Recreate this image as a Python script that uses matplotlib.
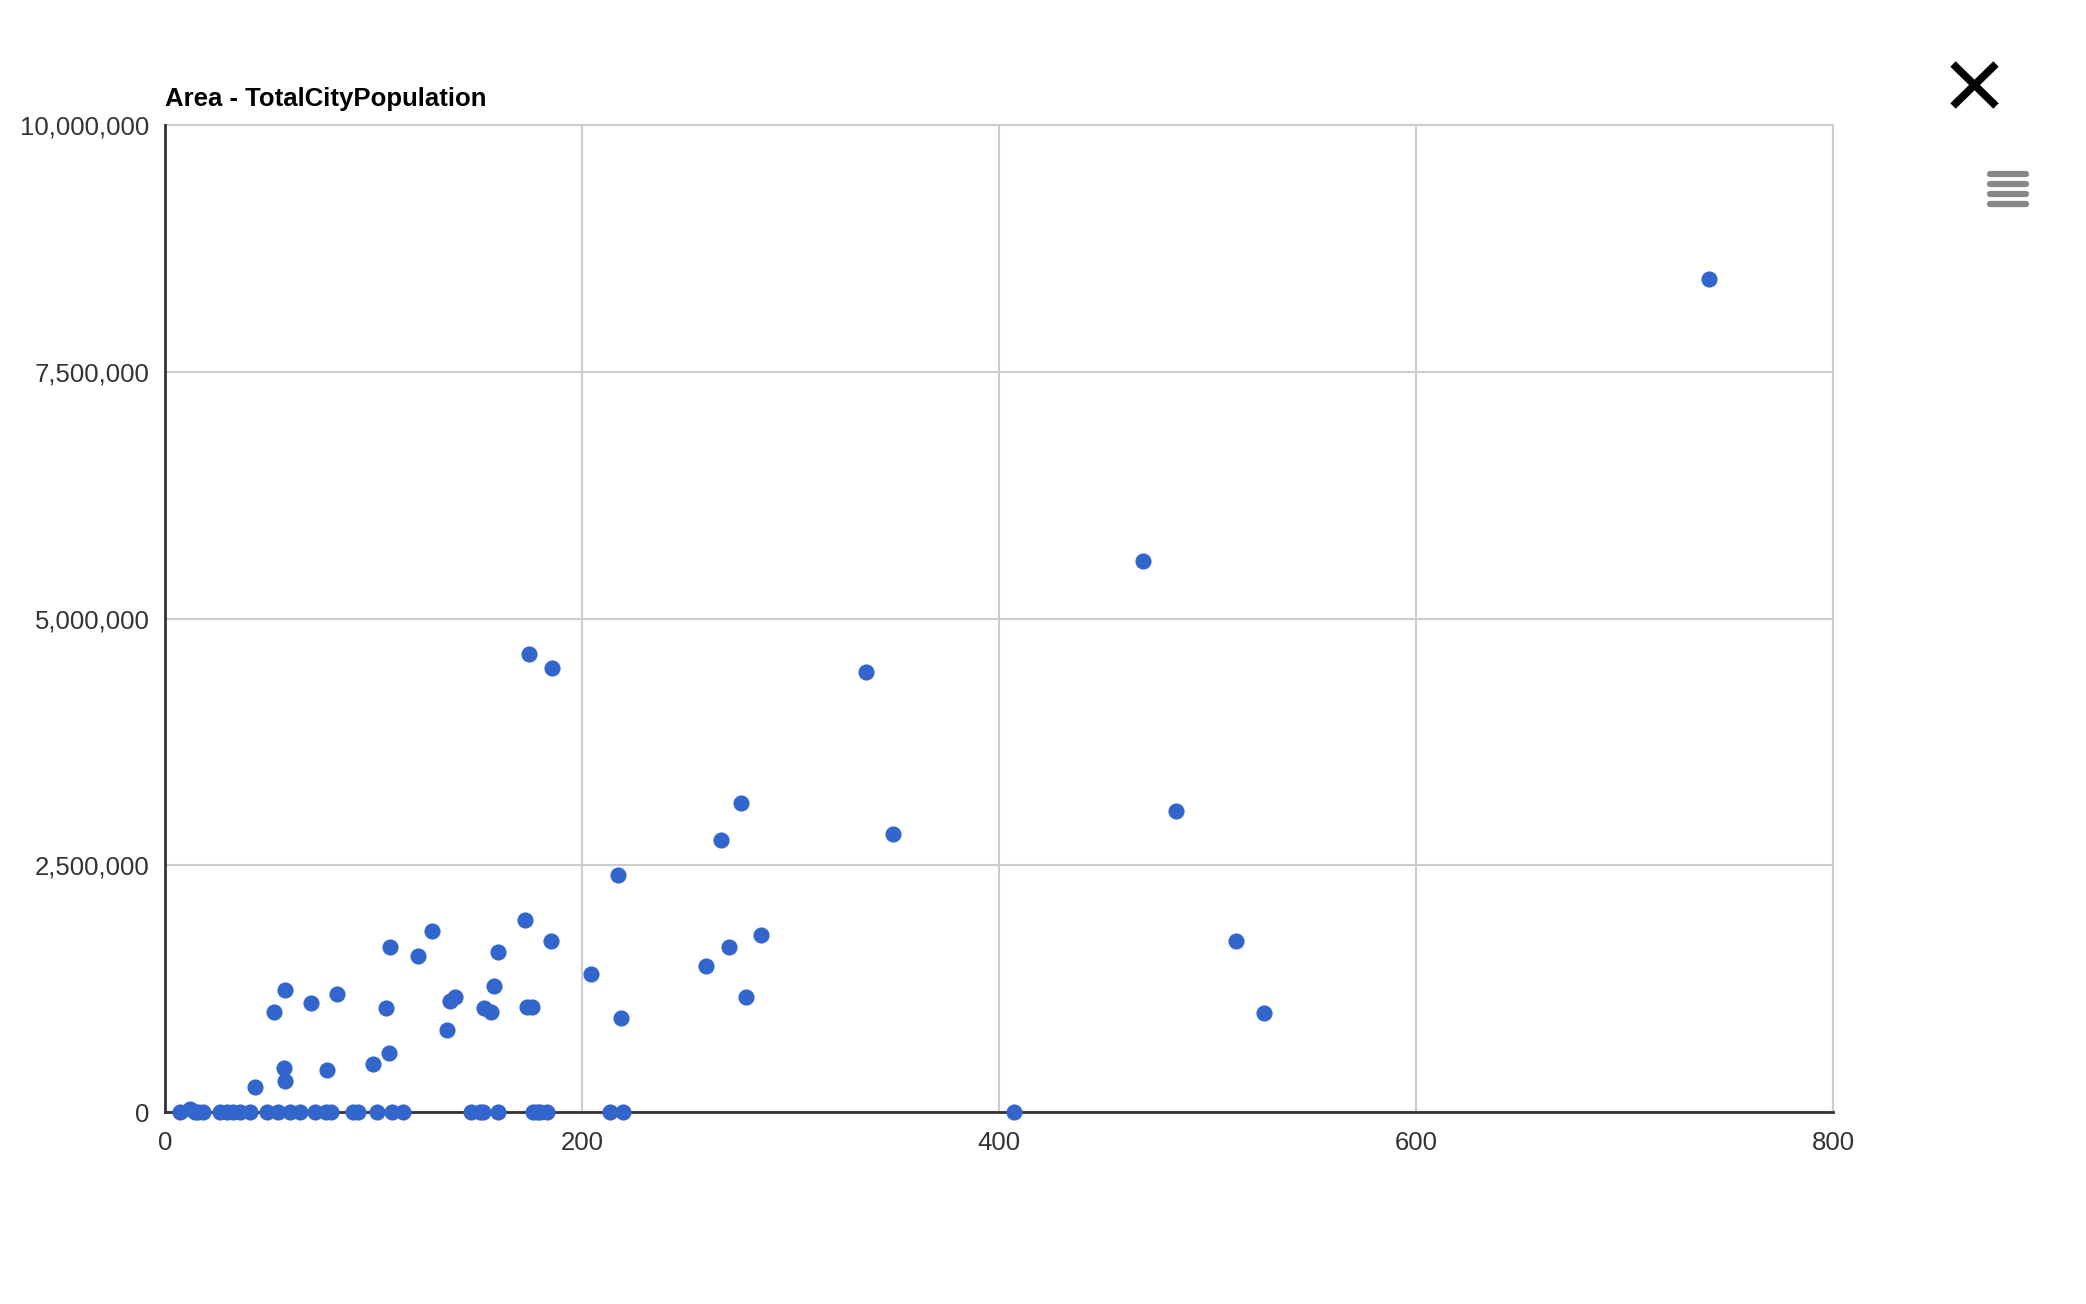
import numpy as np
import matplotlib.pyplot as plt
from matplotlib.ticker import FuncFormatter

# Area vs total city population
area = [7.2, 12.0, 14.4, 16.0, 18.2, 26.4, 29.7, 32.6, 36.0, 40.8, 48.9, 54.2,
        60.0, 64.7, 72.0, 77.0, 79.5, 90.0, 92.5, 101.6, 108.8, 114.0, 147.0,
        151.0, 152.5, 159.7, 176.5, 178.6, 180.0, 183.0, 213.4, 219.7, 407.0,
        43.3, 52.3, 57.4, 57.2, 57.5, 70.2, 77.5, 82.3, 99.9, 105.9, 107.8,
        107.4, 121.2, 128.2, 135.2, 136.5, 139.0, 153.1, 156.3, 157.6, 159.5,
        172.9, 173.5, 176.0, 174.8, 185.0, 185.6, 204.1, 217.5, 218.8, 259.6,
        266.7, 270.5, 276.2, 278.8, 285.8, 336.2, 349.0, 468.9, 484.8, 513.6,
        527.0, 740.7]
population = [0, 30000, 0, 0, 0, 0, 0, 0, 0, 0, 0, 0,
              0, 0, 0, 0, 0, 0, 0, 0, 0, 0, 0,
              0, 0, 0, 0, 0, 0, 0, 0, 0, 0,
              256000, 1010000, 1240000, 445000, 310000, 1105000, 430000, 1200000,
              490000, 1050000, 1670000, 600000, 1580000, 1830000, 835000, 1130000,
              1170000, 1050000, 1010000, 1280000, 1620000, 1950000, 1065000,
              1065000, 4640000, 1730000, 4500000, 1400000, 2400000, 957000,
              1480000, 2760000, 1670000, 3130000, 1170000, 1790000, 4460000,
              2820000, 5580000, 3050000, 1730000, 1000000, 8440000]

x_ticks = [0, 200, 400, 600, 800]
y_ticks = [0, 2500000, 5000000, 7500000, 10000000]

plt.rcParams['font.family'] = ['Liberation Sans', 'DejaVu Sans']

fig = plt.figure(figsize=(20.86, 13.04), dpi=100)
ax = fig.add_axes([0.0791, 0.1472, 0.7996, 0.7569])

ax.scatter(area, population, s=135, color='#3366cc', zorder=4, clip_on=False,
           linewidths=0)

ax.set_xlim(0, 800)
ax.set_ylim(0, 10000000)
ax.set_xticks(x_ticks)
ax.set_yticks(y_ticks)
ax.yaxis.set_major_formatter(FuncFormatter(lambda v, p: f'{int(v):,}'))
ax.grid(True, color='#cccccc', linewidth=1.5, zorder=0)
ax.set_axisbelow(True)
ax.tick_params(length=0, labelsize=18.5, labelcolor='#333333', pad=11)
ax.tick_params(axis='x', pad=14)

for side in ['top', 'right']:
    ax.spines[side].set_color('#cccccc')
    ax.spines[side].set_linewidth(1.5)
for side in ['left', 'bottom']:
    ax.spines[side].set_color('#333333')
    ax.spines[side].set_linewidth(2)
    ax.spines[side].set_zorder(3)

ax.set_title('Area - TotalCityPopulation', loc='left', fontsize=18.5,
             fontweight='bold', color='black', pad=14)

# close and menu icons
ov = fig.add_axes([0, 0, 1, 1], zorder=-1)
ov.set_xlim(0, 2086)
ov.set_ylim(1304, 0)
ov.axis('off')
ov.plot([1953, 1996], [64, 106], color='black', lw=5.5, solid_capstyle='butt')
ov.plot([1953, 1996], [106, 64], color='black', lw=5.5, solid_capstyle='butt')
for yy in [174, 184, 194, 204]:
    ov.plot([1990, 2026], [yy, yy], color='#888888', lw=4.5,
            solid_capstyle='round')

plt.savefig('out.png', dpi=100)
